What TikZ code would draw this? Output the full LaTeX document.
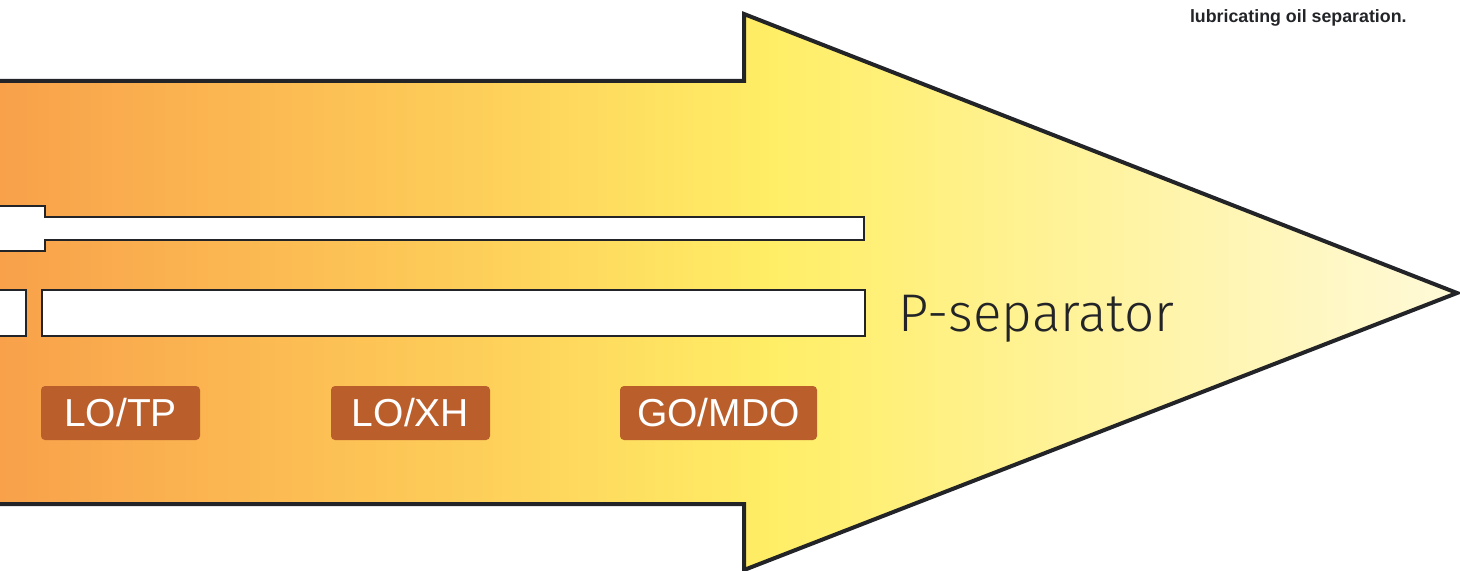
\documentclass[tikz,border=0pt]{standalone}
\usepackage{fontspec}
\setmainfont{Liberation Sans}
\newfontfamily\thinfont{Fira Sans Light}
\definecolor{outline}{HTML}{222428}
\definecolor{tagfill}{HTML}{BA5F2B}
\definecolor{flowA}{HTML}{F8A04A}
\definecolor{flowB}{HTML}{FDC656}
\definecolor{flowC}{HTML}{FFEE66}
\definecolor{flowD}{HTML}{FFF39E}
\definecolor{flowE}{HTML}{FFF9D4}
% horizontal flow gradient: the path box maps onto 25bp..75bp
\pgfdeclarehorizontalshading{flow}{100bp}{
  color(0bp)=(flowA); color(25bp)=(flowA); color(38.7bp)=(flowB);
  color(51.7bp)=(flowC); color(62.7bp)=(flowD); color(74bp)=(flowE);
  color(100bp)=(flowE)}
\tikzset{
  tube/.style={draw=outline, line width=1.3pt, fill=white, line join=miter},
  tag/.style={fill=tagfill, rounded corners=2pt, text=white, font=\fontsize{19.5}{20}\selectfont,
    minimum height=27pt, inner sep=0pt, anchor=center},
}
\begin{document}
\begin{tikzpicture}[x=0.5pt, y=-0.5pt]
\useasboundingbox (0,0) rectangle (1460,571);
% big flow arrow
\draw[shading=flow, draw=outline, line width=2pt, line join=miter]
  (-10,81) -- (744,81) -- (744,14) -- (1457,293) -- (744,570) -- (744,504) -- (-10,504) -- cycle;
% upper tube with stepped inlet
\draw[tube] (-10,206) -- (45,206) -- (45,217) -- (864,217) -- (864,240) -- (45,240) -- (45,251) -- (-10,251);
% lower channels
\draw[tube] (-10,290) -- (26,290) -- (26,336) -- (-10,336);
\draw[tube] (42,290) rectangle (865,336);
% oil type tags
\node[tag, minimum width=79.5pt] (lotp) at (120.5,413) {LO/TP};
\node[tag, minimum width=79.5pt] (loxh) at (410.5,413) {LO/XH};
\node[tag, minimum width=98.5pt] (gomdo) at (718.5,413) {GO/MDO};
% labels
\node[anchor=base west, inner sep=0pt, font=\thinfont\fontsize{26.5}{28}\selectfont, text=outline] (psep) at (898,332) {P-separator};
\node[anchor=base east, inner sep=0pt, font=\bfseries\fontsize{8.9}{10}\selectfont, text=outline] (note) at (1407,22.5) {lubricating oil separation.};
\end{tikzpicture}
\end{document}
